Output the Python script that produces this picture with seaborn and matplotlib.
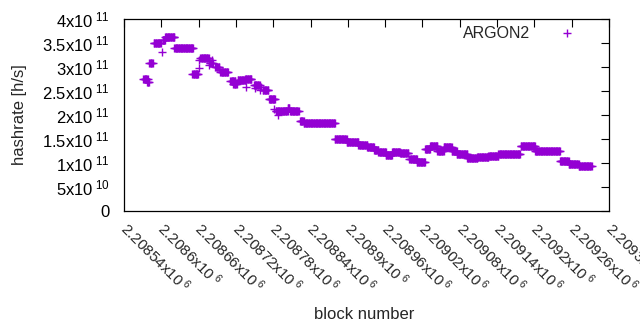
import numpy as np
import pandas as pd
import seaborn as sns
import matplotlib.pyplot as plt
from matplotlib.transforms import ScaledTranslation

# runs of blocks with the same hashrate: first block, last block, hashrate (x1e11 h/s)
seg_start = [2208571, 2208577, 2208581, 2208588, 2208601, 2208602, 2208606, 2208621,
             2208650, 2208660, 2208661, 2208663, 2208677, 2208678, 2208682, 2208687,
             2208695, 2208711, 2208716, 2208723, 2208735, 2208736, 2208749, 2208750,
             2208759, 2208761, 2208763, 2208773, 2208782, 2208784, 2208788, 2208803,
             2208807, 2208823, 2208829, 2208879, 2208898, 2208917, 2208931, 2208942,
             2208949, 2208961, 2208971, 2208984, 2208999, 2209011, 2209024, 2209032,
             2209044, 2209054, 2209067, 2209075, 2209092, 2209108, 2209126, 2209142,
             2209178, 2209201, 2209241, 2209255, 2209271]
seg_end = [2208578, 2208580, 2208586, 2208599, 2208601, 2208606, 2208621, 2208651,
           2208659, 2208660, 2208661, 2208676, 2208677, 2208683, 2208682, 2208693,
           2208707, 2208719, 2208721, 2208735, 2208745, 2208736, 2208758, 2208750,
           2208759, 2208761, 2208772, 2208783, 2208782, 2208803, 2208788, 2208806,
           2208821, 2208829, 2208879, 2208898, 2208917, 2208931, 2208942, 2208949,
           2208961, 2208971, 2208984, 2208997, 2209011, 2209024, 2209032, 2209044,
           2209054, 2209067, 2209075, 2209092, 2209108, 2209126, 2209142, 2209177,
           2209201, 2209241, 2209255, 2209271, 2209292]
seg_rate = [2.74, 2.69, 3.08, 3.49, 3.32, 3.56, 3.62, 3.39,
            2.85, 2.97, 3.15, 3.18, 3.04, 3.09, 3.15, 2.99,
            2.89, 2.70, 2.65, 2.72, 2.75, 2.58, 2.63, 2.56,
            2.52, 2.59, 2.52, 2.33, 2.12, 2.08, 2.00, 2.14,
            2.08, 1.875, 1.83, 1.49, 1.43, 1.375, 1.33, 1.27,
            1.22, 1.17, 1.235, 1.20, 1.08, 1.03, 1.285, 1.354,
            1.25, 1.34, 1.256, 1.18, 1.10, 1.12, 1.146, 1.19,
            1.354, 1.25, 1.04, 0.97, 0.94]

x_ticks = [2208540 + 60 * i for i in range(14)]
x_labels = ["2.20854", "2.2086", "2.20866", "2.20872", "2.20878", "2.20884", "2.2089",
            "2.20896", "2.20902", "2.20908", "2.20914", "2.2092", "2.20926", "2.20932"]
y_ticks = [0, 0.5e11, 1e11, 1.5e11, 2e11, 2.5e11, 3e11, 3.5e11, 4e11]
y_labels = ["0", "5x10$^{\\ 10}$", "1x10$^{\\ 11}$", "1.5x10$^{\\ 11}$",
            "2x10$^{\\ 11}$", "2.5x10$^{\\ 11}$", "3x10$^{\\ 11}$",
            "3.5x10$^{\\ 11}$", "4x10$^{\\ 11}$"]

rows = []
for a, b, r in zip(seg_start, seg_end, seg_rate):
    for blk in range(a, b + 1):
        rows.append((blk, r * 1e11))
df = pd.DataFrame(rows, columns=["block", "hashrate"])

sns.set_style("white")
plt.rcParams["font.family"] = ["Liberation Sans", "DejaVu Sans"]
plt.rcParams["mathtext.fontset"] = "custom"
plt.rcParams["mathtext.rm"] = "Liberation Sans"
plt.rcParams["mathtext.it"] = "Liberation Sans"

fig = plt.figure(figsize=(6.4, 3.3), dpi=100)
ax = fig.add_axes([124 / 640, 1 - 211 / 330, 485 / 640, 192 / 330])

sns.scatterplot(data=df, x="block", y="hashrate", marker="+", s=40,
                color="#9400d3", linewidth=1.0, label="ARGON2", ax=ax)

ax.set_xlim(2208540, 2209320)
ax.set_ylim(0, 4e11)
ax.set_xticks(x_ticks)
ax.set_xticklabels([])
# rotated tick labels, hanging down-right from each tick
off = ax.get_xaxis_transform() + ScaledTranslation(6 / 100, -8 / 100, fig.dpi_scale_trans)
for xt, lab in zip(x_ticks, x_labels):
    ax.text(xt, 0, lab + "x10$^{\\ 6}$", transform=off, rotation=-45,
            ha="left", va="top", rotation_mode="anchor", fontsize=11, clip_on=False)
ax.set_yticks(y_ticks)
ax.set_yticklabels(y_labels, fontsize=12)
ax.tick_params(direction="in", length=5.5, width=0.8, top=True, right=True,
               colors="black", labelcolor="black")
ax.tick_params(axis="y", pad=10)
for sp in ax.spines.values():
    sp.set_linewidth(0.9)
    sp.set_color("black")

ax.set_xlabel("block number", fontsize=12)
ax.xaxis.set_label_coords(0.495, -0.5)
ax.set_ylabel("hashrate [h/s]", fontsize=12)
ax.yaxis.set_label_coords(-0.2, 0.5)

ax.legend(loc="upper right", bbox_to_anchor=(0.962, 0.966), frameon=False,
          markerfirst=False, handlelength=3.0, handletextpad=0.8,
          borderpad=0, borderaxespad=0, fontsize=11.5)

fig.savefig("out.png", dpi=100)
